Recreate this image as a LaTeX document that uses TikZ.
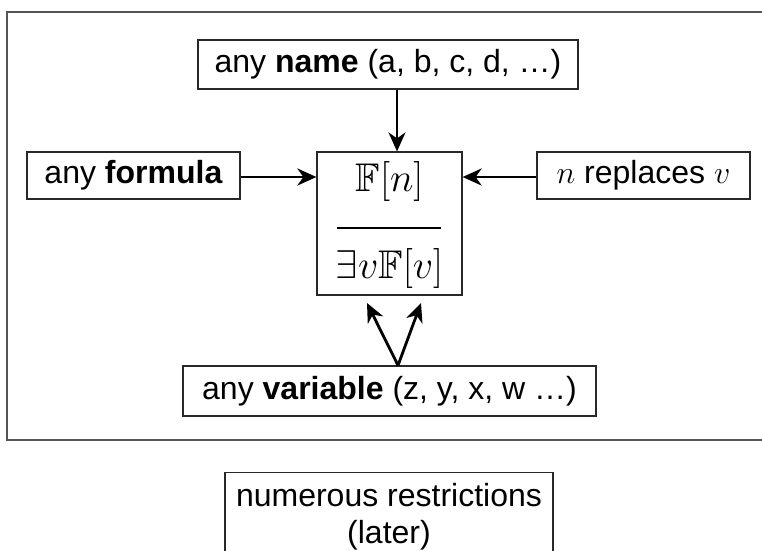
\RequirePackage{fix-cm}
\documentclass[tikz,border=0pt]{standalone}
\usepackage{amssymb}
\usepackage{fontspec}
\setmainfont{Liberation Sans}
\usetikzlibrary{arrows.meta}

\tikzset{
  box/.style={draw={rgb,255:red,40;green,40;blue,40}, line width=1.2pt, inner sep=0pt,
              font=\fontsize{32}{38}\selectfont},
  conn/.style={line width=2.8pt, -{Stealth[length=19pt,width=17pt,inset=6pt]}},
  frameline/.style={draw={rgb,255:red,85;green,85;blue,85}, line width=1.5pt},
  plaintext/.style={inner sep=0pt, font=\fontsize{32}{37}\selectfont},
  mathtext/.style={inner sep=0pt, font=\fontsize{40}{46}\selectfont}
}

\begin{document}
\begin{tikzpicture}[x=1pt, y=-1pt]
  \useasboundingbox (0,0) rectangle (762,550);
  \clip (0,0) rectangle (762,550);

  % outer frame, open on the right
  \draw[frameline] (775,12) -- (7,12) -- (7,440) -- (775,440);

  % boxes
  \node[box, minimum width=380pt, minimum height=49pt] (name) at (388,64.5)
    {any \textbf{name} (a, b, c, d, …)};
  \node[box, minimum width=213pt, minimum height=47pt] (formula) at (133.5,175.5)
    {any \textbf{formula}};
  \node[box, minimum width=145pt, minimum height=143pt] (core) at (389.5,223.5) {};
  \node[box, minimum width=213pt, minimum height=47pt] (nrep) at (643.5,175.5)
    {$n$ replaces $v$};
  \node[box, minimum width=413pt, minimum height=50pt] (var) at (389.5,391)
    {any \textbf{variable} (z, y, x, w …)};
  \node[box, minimum width=328pt, minimum height=120pt, anchor=north]
    (restr) at (389,472) {};
  \node[plaintext, align=center, anchor=base] (restrtext) at (389,543)
    {numerous restrictions\\(later)};

  % rule of inference inside the central box
  \node[mathtext, anchor=base] (prem) at (389.5,191) {$\mathbb{F}[n]$};
  \draw[line width=2.8pt] (337,228) -- (441,228);
  \node[mathtext, anchor=base] (concl) at (389.5,278) {$\exists v\mathbb{F}[v]$};

  % connector guides
  \coordinate (ax) at (397,0);
  \coordinate (ay) at (0,177);
  \coordinate (bx) at (398,0);
  \coordinate (tipL) at (367,303);
  \coordinate (tipR) at (421,303);

  % connectors
  \draw[conn] (name.south -| ax) -- (core.north -| ax);
  \draw[conn] (formula.east |- ay) -- (core.west |- ay);
  \draw[conn] (nrep.west |- ay) -- (core.east |- ay);
  \draw[conn] (var.north -| bx) -- (tipL);
  \draw[conn] (var.north -| bx) -- (tipR);
\end{tikzpicture}
\end{document}
